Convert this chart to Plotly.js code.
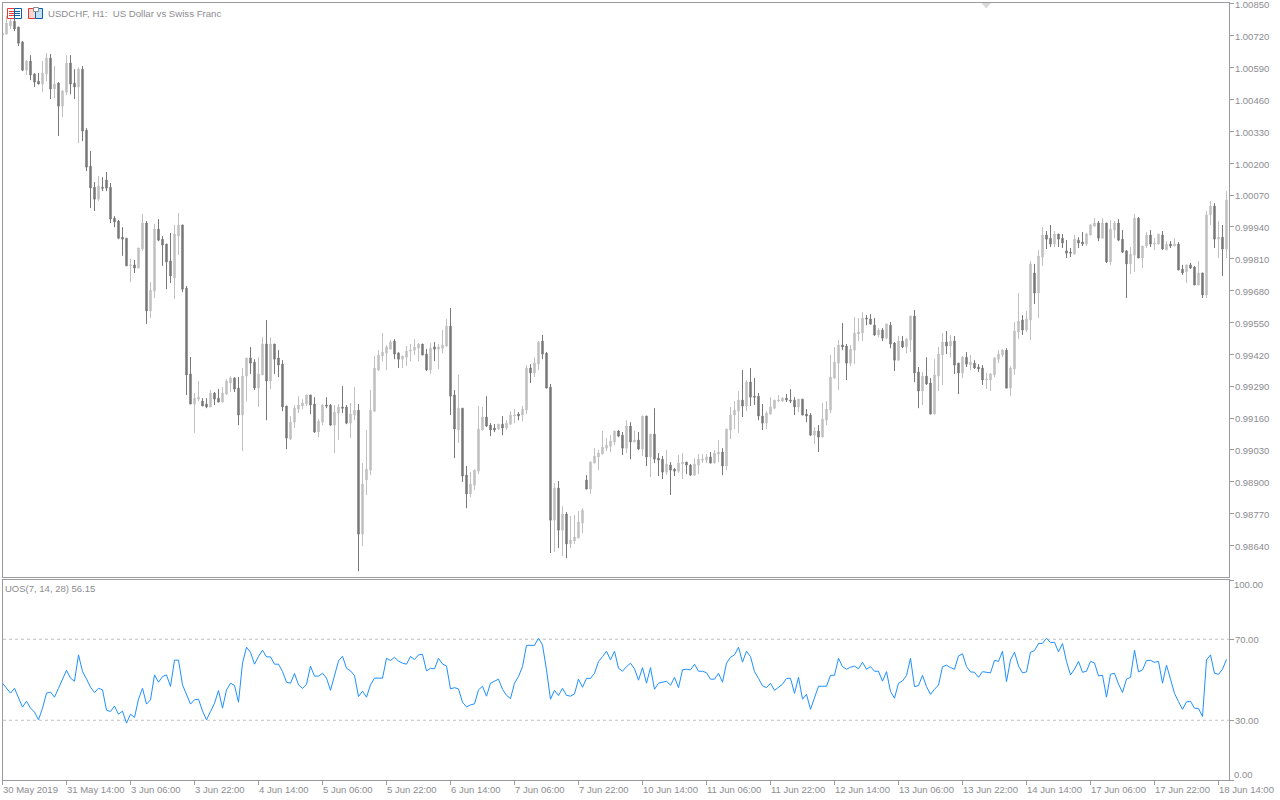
<!DOCTYPE html>
<html>
<head>
<meta charset="utf-8">
<script src="https://cdn.plot.ly/plotly-3.0.1.min.js"></script>
<style>html,body{margin:0;padding:0;background:#fff;overflow:hidden}#chart{width:1280px;height:800px}</style>
</head>
<body>
<div id="chart"></div>
<script>
// Prices are held in points (1 point = 0.00001)
const direction = ("UUUDDDUDDD"+"UUDUDUUDDU"+"DDDDUDDDDD"+"DDUDUUDUUD"+"DDDUUDDDUU"+"DDUDDUUUDD"+"UUDDUUDUDD"+"DDUUUUUDDU"+"UDDUUDDUUD"+"UUUUUUUUDD"+
 "UUUUUDDUDU"+"UUDDUDDUUU"+"UDDDUDUUUD"+"UUDUUDDDUD"+"UDUUUUDUUU"+"UUUUDDUDUD"+"UDUDDDUDDU"+"UDDUUUUDUU"+"DUUUUDUDDD"+"DUUUUUDDDU"+
 "DDDUDUUUUU"+"DDUUUUDDDU"+"DUDDUDUUDD"+"UDDUUUDUDD"+"UDUDDDUUUU"+"UDUUUDUUDU"+"UDDUDDDDUD"+"DUUUDUDUUD"+"DDUUDUUDUU"+"DUDUDDUDDU"+"DUUDUDU").split("");
const high = [100739,100801,100797,100797,100756,100699,100621,100641,100568,100568,
100617,100650,100646,100597,100531,100499,100641,100641,100584,100592,
100597,100343,100250,100123,100148,100143,100164,100119,99984,99968,
99939,99894,99809,99805,99854,99993,99964,99715,99952,99972,
99903,99870,99915,99948,99997,99948,99699,99409,99262,99311,
99241,99241,99274,99266,99278,99286,99319,99331,99327,99327,
99364,99405,99450,99400,99408,99490,99560,99490,99462,99437,
99396,99209,99168,99213,99249,99237,99254,99254,99245,99155,
99217,99245,99217,99213,99217,99290,99213,99221,99286,99217,
98976,99111,99274,99413,99437,99507,99458,99478,99482,99429,
99413,99454,99462,99482,99466,99462,99441,99466,99470,99462,
99519,99564,99609,99274,99336,99200,98964,98940,98951,99209,
99205,99249,99139,99135,99135,99168,99151,99188,99196,99184,
99209,99376,99380,99408,99474,99499,99429,99299,98894,98903,
98800,98776,98760,98764,98780,98792,98927,98984,99037,99029,
99107,99078,99090,99107,99111,99103,99151,99143,99107,99103,
99168,99168,99094,99200,99017,99005,99029,98980,98956,99009,
99017,98980,98972,98996,99013,99013,99013,99021,99029,99070,
99037,99115,99205,99229,99270,99356,99315,99364,99323,99262,
99217,99188,99245,99233,99254,99245,99258,99278,99245,99237,
99237,99196,99180,99123,99131,99221,99229,99417,99450,99478,
99548,99462,99458,99572,99568,99592,99580,99584,99568,99527,
99527,99544,99552,99470,99495,99495,99486,99576,99601,99368,
99348,99408,99323,99400,99450,99507,99515,99499,99495,99384,
99413,99429,99417,99396,99380,99376,99344,99344,99408,99437,
99441,99445,99372,99552,99670,99580,99597,99801,99789,99846,
99939,99923,99948,99923,99911,99911,99886,99854,99907,99898,
99919,99915,99952,99976,99964,99976,99956,99968,99964,99972,
99927,99846,99858,99993,99980,99862,99919,99927,99894,99911,
99923,99882,99882,99894,99878,99785,99785,99793,99781,99801,
99752,100005,100046,100037,99964,99948,100086];
const bodyTop = [100731,100772,100780,100780,100756,100695,100617,100617,100564,100535,
100568,100629,100629,100523,100527,100495,100609,100609,100527,100584,
100584,100335,100188,100102,100107,100102,100131,100102,99976,99964,
99898,99894,99785,99785,99854,99956,99956,99682,99931,99931,
99890,99870,99801,99911,99948,99948,99690,99340,99241,99245,
99229,99217,99262,99262,99241,99262,99311,99323,99323,99282,
99331,99405,99405,99388,99340,99462,99462,99462,99462,99405,
99380,99209,99143,99200,99213,99221,99254,99254,99217,99147,
99213,99213,99213,99184,99205,99205,99205,99176,99192,99192,
98890,98951,99192,99364,99417,99429,99450,99470,99474,99425,
99413,99433,99437,99450,99462,99462,99421,99445,99450,99450,
99458,99535,99535,99254,99200,99200,98927,98890,98947,99115,
99164,99164,99131,99119,99135,99135,99139,99172,99172,99176,
99196,99364,99364,99384,99470,99474,99425,99286,98874,98874,
98768,98768,98662,98674,98735,98784,98907,98980,99005,99017,
99041,99049,99066,99107,99107,99090,99127,99127,99070,99070,
99168,99168,99094,99094,98996,98992,98972,98968,98951,98976,
98980,98980,98968,98972,98992,98992,99001,99001,99017,99021,
99021,99115,99172,99192,99233,99233,99307,99307,99249,99249,
99168,99180,99205,99233,99233,99241,99241,99233,99233,99237,
99237,99176,99172,99107,99107,99155,99196,99327,99388,99458,
99458,99454,99441,99507,99511,99568,99568,99564,99539,99519,
99519,99544,99539,99466,99474,99474,99482,99576,99576,99348,
99331,99331,99303,99336,99421,99470,99470,99474,99474,99384,
99408,99408,99388,99384,99368,99364,99319,99340,99405,99421,
99437,99437,99364,99515,99556,99560,99564,99789,99752,99821,
99907,99907,99894,99911,99911,99894,99842,99837,99890,99886,
99878,99911,99948,99956,99956,99956,99956,99931,99956,99956,
99890,99842,99829,99976,99976,99862,99907,99907,99874,99911,
99907,99870,99870,99870,99870,99768,99785,99785,99776,99752,
99752,99989,100025,100025,99898,99898,100050];
const bodyBottom = [100723,100727,100760,100748,100690,100580,100580,100560,100531,100523,
100523,100564,100503,100503,100433,100433,100490,100523,100511,100511,
100331,100184,100099,100053,100053,100098,100098,99972,99960,99894,
99890,99781,99781,99772,99772,99850,99597,99597,99678,99886,
99866,99797,99740,99731,99903,99686,99336,99217,99217,99237,
99209,99205,99205,99237,99225,99225,99258,99303,99278,99172,
99172,99331,99384,99282,99282,99336,99311,99311,99400,99376,
99205,99078,99074,99143,99196,99209,99217,99213,99103,99103,
99143,99209,99131,99131,99180,99200,99139,99139,99172,98686,
98686,98907,98947,99188,99356,99413,99425,99441,99421,99400,
99400,99408,99433,99437,99445,99417,99356,99356,99441,99441,
99445,99454,99249,99115,99111,98923,98850,98850,98886,98943,
99111,99127,99111,99111,99115,99119,99119,99135,99168,99168,
99172,99192,99344,99344,99380,99421,99282,98743,98743,98702,
98702,98646,98646,98658,98670,98731,98870,98870,98976,99001,
99013,99037,99045,99062,99086,99037,99037,99062,99062,99033,
99033,99001,99001,98992,98988,98939,98939,98947,98943,98943,
98972,98968,98927,98927,98968,98988,98988,98976,98976,99013,
98964,98964,99111,99172,99188,99209,99209,99245,99245,99168,
99139,99139,99176,99200,99229,99229,99233,99229,99205,99205,
99172,99168,99090,99090,99082,99082,99151,99192,99323,99384,
99450,99384,99384,99437,99503,99507,99564,99543,99499,99499,
99486,99486,99462,99396,99396,99450,99450,99478,99344,99270,
99270,99299,99176,99176,99331,99417,99454,99454,99376,99344,
99344,99380,99376,99364,99360,99315,99315,99315,99336,99400,
99417,99282,99282,99360,99511,99519,99519,99560,99670,99670,
99817,99890,99870,99870,99890,99874,99833,99833,99829,99874,
99870,99870,99907,99943,99894,99894,99797,99797,99927,99886,
99837,99789,99789,99825,99813,99813,99862,99870,99870,99870,
99850,99846,99862,99862,99764,99752,99756,99772,99703,99703,
99662,99662,99989,99890,99890,99850,99850];
const low = [100723,100727,100748,100739,100678,100576,100560,100539,100511,100523,
100490,100535,100462,100466,100311,100388,100478,100482,100462,100282,
100290,100168,100017,100005,100046,100086,100086,99956,99939,99890,
99822,99781,99715,99752,99772,99842,99544,99568,99650,99882,
99781,99686,99711,99645,99825,99674,99254,99217,99099,99229,
99209,99200,99205,99213,99225,99225,99254,99266,99266,99131,
99025,99229,99340,99274,99205,99336,99151,99278,99340,99327,
99188,99033,99070,99119,99180,99196,99209,99176,99099,99082,
99131,99200,99127,99017,99070,99180,99135,99078,99151,98535,
98637,98846,98927,99184,99352,99392,99356,99441,99400,99364,
99364,99372,99392,99417,99392,99417,99352,99340,99392,99360,
99425,99450,99172,98996,99058,98899,98792,98837,98866,98931,
99111,99123,99086,99103,99111,99090,99111,99131,99139,99151,
99147,99176,99303,99327,99356,99400,99282,98609,98613,98629,
98596,98588,98629,98646,98670,98690,98870,98850,98976,98947,
99013,99025,99021,99049,99082,99009,99017,98992,99062,99029,
99005,98964,98919,98976,98923,98911,98927,98846,98923,98935,
98911,98931,98923,98923,98931,98976,98976,98976,98976,98980,
98927,98947,99074,99115,99099,99164,99188,99209,99213,99151,
99111,99115,99176,99196,99225,99225,99225,99221,99172,99184,
99172,99143,99086,99054,99021,99082,99131,99180,99319,99274,
99437,99315,99372,99380,99474,99474,99539,99543,99495,99490,
99474,99482,99445,99352,99396,99445,99425,99429,99307,99200,
99213,99295,99176,99176,99270,99295,99421,99408,99340,99258,
99323,99368,99356,99360,99348,99295,99278,99270,99327,99384,
99408,99282,99249,99336,99482,99499,99511,99478,99625,99568,
99781,99850,99858,99858,99858,99854,99813,99817,99829,99854,
99862,99862,99907,99943,99882,99894,99793,99785,99894,99882,
99833,99650,99748,99756,99813,99772,99854,99858,99846,99870,
99846,99846,99854,99862,99764,99744,99711,99768,99703,99703,
99650,99650,99948,99854,99813,99740,99813];
const uos = [48.3,45.8,43.4,45.8,41.2,36.5,39.4,36.0,34.0,30.2,
36.0,43.4,43.9,41.4,45.8,50.0,54.7,50.8,49.3,62.3,
54.1,50.4,46.3,43.7,45.8,45.0,35.0,34.3,37.0,33.0,
34.5,28.6,33.0,31.4,40.4,45.8,38.0,40.1,52.4,48.8,
51.6,52.4,46.7,59.7,59.7,47.5,42.9,38.0,40.1,40.4,
34.6,30.2,34.3,38.4,44.7,36.0,45.0,48.3,47.2,38.9,
58.2,66.1,63.6,57.7,61.5,64.6,61.3,61.3,57.7,57.7,
54.1,48.8,48.3,53.1,47.5,45.7,47.8,56.7,51.8,51.8,
53.2,50.8,44.8,52.4,59.3,61.6,55.7,54.4,52.1,41.7,
44.4,41.4,47.5,50.8,50.8,50.8,60.6,59.5,61.1,59.2,
58.2,57.7,61.5,60.0,62.3,62.6,54.4,55.7,55.4,60.6,
57.8,56.8,45.5,46.1,45.5,38.9,36.6,37.6,38.1,45.0,
46.8,41.9,48.3,49.4,50.3,45.3,42.3,40.7,48.3,51.6,
56.5,67.0,67.0,67.0,70.5,67.2,54.9,40.4,44.8,42.2,
45.8,42.3,41.9,43.0,50.3,46.3,50.7,50.7,53.2,59.0,
61.4,64.1,59.8,64.1,55.7,54.2,56.5,58.2,55.4,49.8,
56.0,48.3,56.0,45.3,48.3,48.9,49.3,47.3,51.2,46.1,
54.9,55.2,54.9,57.7,54.2,54.2,53.5,50.3,50.3,53.2,
48.8,58.2,61.1,62.3,66.1,58.7,64.1,61.4,54.0,50.7,
47.0,46.1,48.3,44.8,46.3,47.8,50.7,50.7,43.3,51.2,
40.4,42.8,35.4,41.7,46.8,46.8,46.8,52.2,52.2,60.6,
56.5,55.2,56.2,56.7,55.4,58.6,55.2,56.5,54.2,54.2,
49.3,54.0,44.2,40.9,48.3,49.4,52.1,60.6,46.6,47.1,
52.2,46.6,42.8,45.3,47.4,56.5,57.2,56.0,55.2,61.8,
62.8,56.5,53.9,53.7,51.2,54.0,53.7,53.4,59.6,59.1,
64.1,49.1,59.8,63.6,56.8,53.4,53.9,63.6,64.4,67.9,
68.0,70.5,68.4,68.5,63.8,67.9,59.0,52.4,55.2,59.1,
53.7,54.2,59.1,58.3,51.9,52.2,41.4,52.7,53.2,47.9,
43.7,50.3,51.2,64.6,53.9,54.9,59.5,59.6,58.6,59.1,
48.3,57.2,50.3,43.3,39.2,35.4,39.1,39.4,35.9,35.9,
31.8,59.8,62.3,53.2,52.7,55.2,60.1];
const timeTickBars = [0,16,32,48,64,80,96,112,128,144,160,176,192,208,224,240,256,272,288,304];
const timeTickLabels = ["30 May 2019","31 May 14:00","3 Jun 06:00","3 Jun 22:00","4 Jun 14:00","5 Jun 06:00","5 Jun 22:00","6 Jun 14:00","7 Jun 06:00","7 Jun 22:00","10 Jun 14:00","11 Jun 06:00","11 Jun 22:00","12 Jun 14:00","13 Jun 06:00","13 Jun 22:00","14 Jun 14:00","17 Jun 06:00","17 Jun 22:00","18 Jun 14:00"];
const uosLevels = [70,30];
const uosRange = [0.5, 99.27];
const titleText = "USDCHF, H1:  US Dollar vs Swiss Franc";
const uosText = "UOS(7, 14, 28) 56.15";

const GREY = "#8c8c91", AXIS = "#9a9a9f", FONT = "'Liberation Sans', Arial, sans-serif", FS = 9.5;
const bars = high.map((_, i) => i);
const open = direction.map((d, i) => (d === "U" ? bodyBottom[i] : bodyTop[i]) / 1e5);
const close = direction.map((d, i) => (d === "U" ? bodyTop[i] : bodyBottom[i]) / 1e5);

const px = v => (v - 3) / 1226, py = v => (780 - v) / 777;

const traces = [
  {type: "candlestick", x: bars, open, close,
   high: high.map(v => v / 1e5), low: low.map(v => v / 1e5),
   xaxis: "x", yaxis: "y", whiskerwidth: 0, hoverinfo: "skip",
   increasing: {line: {color: "#c0c0c0", width: 1}, fillcolor: "#c0c0c0"},
   decreasing: {line: {color: "#787878", width: 1}, fillcolor: "#787878"}},
  {type: "scatter", mode: "lines", x: bars, y: uos, xaxis: "x2", yaxis: "y2",
   line: {color: "#1e90ff", width: 1}, hoverinfo: "skip"}
];

const rect = (x0, y0, x1, y1, color, fill) => ({type: "rect", xref: "paper", yref: "paper",
  x0: px(x0), x1: px(x1), y0: py(y0), y1: py(y1), line: {color, width: 1}, fillcolor: fill || "rgba(0,0,0,0)"});
const seg = (x0, y0, x1, y1, color) => ({type: "line", xref: "paper", yref: "paper",
  x0: px(x0), x1: px(x1), y0: py(y0), y1: py(y1), line: {color, width: 1}});

const shapes = [
  ...uosLevels.map(v => ({type: "line", xref: "paper", yref: "y2", x0: 0, x1: 1, y0: v, y1: v, layer: "below",
    line: {color: "#c0c0c0", width: 1, dash: "3px,3px"}})),
  // first time tick sits on the left frame line, outside the plotted range
  seg(2.5, 780, 2.5, 785, AXIS),
  // chart-shift marker
  {type: "path", xref: "paper", yref: "paper",
   path: `M ${px(981.5)} ${py(3)} L ${px(991)} ${py(3)} L ${px(986.2)} ${py(8.5)} Z`,
   fillcolor: "#d8d8d8", line: {width: 0}},
  // list icon
  rect(7.5, 8.5, 14.5, 18.5, "#e53935", "#ffffff"), rect(14.5, 8.5, 21.5, 18.5, "#0b61a8", "#ffffff"),
  seg(9, 11.5, 14, 11.5, "#e53935"), seg(9, 13.5, 14, 13.5, "#e53935"), seg(9, 15.5, 14, 15.5, "#e53935"),
  seg(15, 11.5, 20, 11.5, "#0b61a8"), seg(15, 13.5, 20, 13.5, "#0b61a8"), seg(15, 15.5, 20, 15.5, "#0b61a8"),
  // depth icon
  rect(28.5, 8.5, 35.5, 18.5, "#e53935", "#fbd5cf"), rect(35.5, 8.5, 42.5, 18.5, "#0b61a8", "#bfe0f5"),
  rect(33.5, 7.5, 38.5, 11.5, "#8c8c91", "#ffffff")
];

const lbl = (text, x, y, size) => ({text, x: px(x), y: py(y), xref: "paper", yref: "paper", xanchor: "left",
  yanchor: "middle", showarrow: false, borderpad: 0, font: {family: FONT, size: size || FS, color: GREY}});

const annotations = [
  lbl(titleText, 47, 13, 9.65), lbl(uosText, 4, 588), lbl("100.00", 1233, 584), lbl("0.00", 1233, 774),
  ...timeTickBars.map((b, i) => lbl(timeTickLabels[i], 2 + 4 * b - 1 + 1, 790))
];

const xRange = [0.125, 306.625];
const layout = {
  width: 1280, height: 800, margin: {l: 3, r: 51, t: 3, b: 20, pad: 0}, showlegend: false,
  paper_bgcolor: "#ffffff", plot_bgcolor: "#ffffff", font: {family: FONT, size: FS, color: GREY},
  boxgap: 0.5, hovermode: false, dragmode: false,
  xaxis: {domain: [0, 1], range: xRange, anchor: "y", rangeslider: {visible: false}, showgrid: false, zeroline: false,
    showticklabels: false, ticks: "", showline: true, mirror: true, linecolor: AXIS, linewidth: 1},
  yaxis: {domain: [203 / 777, 1], range: [0.98511, 1.00854], side: "right", anchor: "x", showgrid: false, zeroline: false,
    tick0: 1.0085, dtick: 0.0013, tickformat: ".5f", ticks: "outside", ticklen: 4, tickcolor: AXIS, tickwidth: 1,
    ticklabeloverflow: "allow", ticklabelstandoff: -1, ticklabelshift: 1,
    showline: true, mirror: true, linecolor: AXIS, linewidth: 1, tickfont: {family: FONT, size: FS, color: GREY}},
  xaxis2: {domain: [0, 1], range: xRange, anchor: "y2", showgrid: false, zeroline: false, tickmode: "array", tickvals: timeTickBars,
    ticktext: timeTickBars.map(() => ""), ticks: "outside", ticklen: 4, tickcolor: AXIS, tickwidth: 1,
    showline: true, mirror: true, linecolor: AXIS, linewidth: 1},
  yaxis2: {domain: [0, 200 / 777], range: uosRange, side: "right", anchor: "x2", showgrid: false, zeroline: false,
    tickmode: "array", tickvals: [uosRange[0], 30, 70, uosRange[1]], ticktext: ["", "30.00", "70.00", ""], ticks: "outside", ticklen: 4, tickcolor: AXIS, tickwidth: 1,
    ticklabelstandoff: -1,
    showline: true, mirror: true, linecolor: AXIS, linewidth: 1, tickfont: {family: FONT, size: FS, color: GREY}},
  shapes, annotations
};
Plotly.newPlot("chart", traces, layout, {displayModeBar: false, staticPlot: true});
</script>
</body>
</html>
